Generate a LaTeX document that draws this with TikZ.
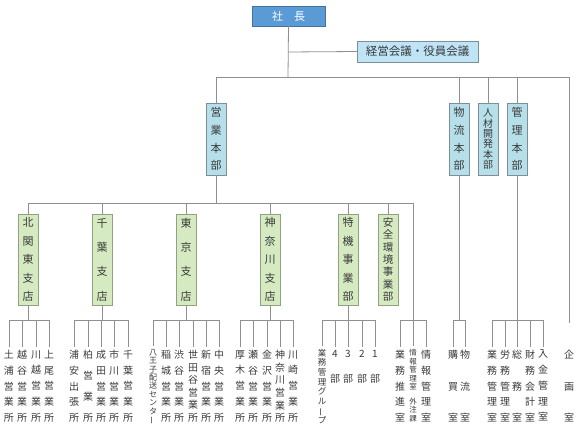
\documentclass[tikz,border=0pt]{standalone}
\usepackage{fontspec}
\newfontfamily\jp{Noto Sans CJK JP}
\definecolor{linec}{HTML}{8F8F8F}
\definecolor{textc}{HTML}{3A3A3A}
\definecolor{topfill}{HTML}{5A9BD5}
\definecolor{topborder}{HTML}{46729E}
\definecolor{meetfill}{HTML}{BEE4F6}
\definecolor{hqfill}{HTML}{B6DFEA}
\definecolor{brfill}{HTML}{D6EAC2}
\definecolor{hqborder}{HTML}{7C8F97}
\definecolor{brborder}{HTML}{8FA383}
\newcommand\vbar{\smash{\rotatebox[origin=c]{90}{ー}}}
\tikzset{
  conn/.style={draw=linec, line width=0.8pt},
  topbox/.style={draw=topborder, fill=topfill, text=white, minimum width=73pt, minimum height=20pt, inner sep=0pt, font=\jp\fontsize{11}{13}\selectfont},
  meetbox/.style={draw=hqborder, fill=meetfill, text=textc, minimum width=121pt, minimum height=21pt, inner sep=0pt, font=\jp\fontsize{11.5}{13}\selectfont},
  hqbox/.style 2 args={draw=hqborder, fill=hqfill, text=textc, minimum width=20pt, minimum height=72pt, inner sep=0pt, align=center, font=\jp\fontsize{#1}{#2}\selectfont},
  brbox/.style 2 args={draw=brborder, fill=brfill, text=textc, minimum width=20pt, minimum height=91pt, inner sep=0pt, align=center, font=\jp\fontsize{#1}{#2}\selectfont},
  col/.style 2 args={anchor=north, inner sep=0pt, align=center, text=textc, font=\jp\fontsize{#1}{#2}\selectfont},
}
\begin{document}
\begin{tikzpicture}[x=1pt,y=-1pt]
\useasboundingbox (0,0) rectangle (580,431);

% top level
\node[topbox] (shacho) at (288.5,16) {社　長};
\node[meetbox] (kaigi) at (417.5,51.5) {経営会議・役員会議};

% head offices
\node[hqbox={11}{17.7}] (eigyo) at (216,139) {営\\業\\本\\部};
\node[hqbox={11}{17.7}] (butsu) at (459,139) {物\\流\\本\\部};
\node[hqbox={10}{10.4}] (jinzai) at (488,139) {人\\材\\開\\発\\本\\部};
\node[hqbox={11}{17.7}] (kanri) at (517,139) {管\\理\\本\\部};

% branches
\node[brbox={11}{18.5}] (kita) at (28,259.5) {北\\関\\東\\支\\店};
\node[brbox={11}{24.3}] (chiba) at (102,259.5) {千\\葉\\支\\店};
\node[brbox={11}{24.3}] (tokyo) at (186,259.5) {東\\京\\支\\店};
\node[brbox={11}{18.5}] (kanagawa) at (270,259.5) {神\\奈\\川\\支\\店};
\node[brbox={11}{18.5}] (tokki) at (348,259.5) {特\\機\\事\\業\\部};
\node[brbox={10.5}{12.3}] (anzen) at (388,259.5) {安\\全\\環\\境\\事\\業\\部};

% junction coordinates
\coordinate (j0) at (288,77);
\coordinate (jk) at (288,52);
\coordinate (busL) at (216,77);
\coordinate (busR) at (569,77);
\coordinate (kikakuEnd) at (569,323);
\coordinate (b2L) at (28,203);
\coordinate (b2R) at (413,203);
\coordinate (fJ) at (413,320);

% bottom columns
\node[col={10}{15.75}] (a1) at (9,350) {土\\浦\\営\\業\\所};
\node[col={10}{15.75}] (a2) at (22,350) {越\\谷\\営\\業\\所};
\node[col={10}{15.75}] (a3) at (36,350) {川\\越\\営\\業\\所};
\node[col={10}{15.75}] (a4) at (49,350) {上\\尾\\営\\業\\所};

\node[col={10}{15.75}] (b1) at (74,350) {浦\\安\\出\\張\\所};
\node[col={10}{21}] (b2) at (88,350) {柏\\営\\業\\所};
\node[col={10}{15.75}] (b3) at (101,350) {成\\田\\営\\業\\所};
\node[col={10}{15.75}] (b4) at (114,350) {市\\川\\営\\業\\所};
\node[col={10}{15.75}] (b5) at (128,350) {千\\葉\\営\\業\\所};

\node[col={8}{8.4}] (c1) at (153,349) {八\\王\\子\\配\\送\\セ\\ン\\タ\\\vbar};
\node[col={10}{15.75}] (c2) at (166,350) {稲\\城\\営\\業\\所};
\node[col={10}{15.75}] (c3) at (179,350) {渋\\谷\\営\\業\\所};
\node[col={10}{12.6}] (c4) at (193,350) {世\\田\\谷\\営\\業\\所};
\node[col={10}{15.75}] (c5) at (206,350) {新\\宿\\営\\業\\所};
\node[col={10}{15.75}] (c6) at (219,350) {中\\央\\営\\業\\所};

\node[col={10}{15.75}] (d1) at (240,350) {厚\\木\\営\\業\\所};
\node[col={10}{15.75}] (d2) at (253,350) {瀬\\谷\\営\\業\\所};
\node[col={10}{15.75}] (d3) at (267,350) {金\\沢\\営\\業\\所};
\node[col={10}{12.6}] (d4) at (280,350) {神\\奈\\川\\営\\業\\所};
\node[col={10}{15.75}] (d5) at (293,350) {川\\崎\\営\\業\\所};

\node[col={8.5}{9.6}] (e1) at (322,349) {業\\務\\管\\理\\グ\\ル\\\vbar\\プ};
\node[col={10}{25}] (e2) at (335,350) {4\\部};
\node[col={10}{25}] (e3) at (348,350) {3\\部};
\node[col={10}{25}] (e4) at (362,350) {2\\部};
\node[col={10}{25}] (e5) at (375,350) {1\\部};

\node[col={10}{15.75}] (f1) at (400,350) {業\\務\\推\\進\\室};
\node[col={7.5}{8.5}] (f2) at (413,349) {情\\報\\管\\理\\室\\[6pt]外\\注\\課};
\node[col={10}{15.75}] (f3) at (426,350) {情\\報\\管\\理\\室};

\node[col={10}{31.5}] (g1) at (453,350) {購\\買\\室};
\node[col={10}{31.5}] (g2) at (465,350) {物\\流\\室};

\node[col={10}{15.75}] (h1) at (492,350) {業\\務\\管\\理\\室};
\node[col={10}{15.75}] (h2) at (505,350) {労\\務\\管\\理\\室};
\node[col={10}{31.5}] (h3) at (517,350) {総\\務\\室};
\node[col={10}{15.75}] (h4) at (530,350) {財\\務\\会\\計\\室};
\node[col={10}{15.75}] (h5) at (543,350) {入\\金\\管\\理\\室};

\node[col={10}{31.5}] (k1) at (569,350) {企\\画\\室};

% connectors: top
\draw[conn] (shacho.south) -- (j0);
\draw[conn] (jk) -- (kaigi.west);
\draw[conn] (busL) -- (busR);
\draw[conn] (busL) -- (eigyo.north);
\draw[conn] (butsu.north |- busL) -- (butsu.north);
\draw[conn] (jinzai.north |- busL) -- (jinzai.north);
\draw[conn] (kanri.north |- busL) -- (kanri.north);
\draw[conn] (busR) -- (kikakuEnd);

% connectors: sales
\draw[conn] (eigyo.south) -- (eigyo.south |- b2L);
\draw[conn] (b2L) -- (b2R);
\foreach \b in {kita,chiba,tokyo,kanagawa,tokki,anzen}
  \draw[conn] (\b.north |- b2L) -- (\b.north);
\draw[conn] (b2R) -- (fJ);

% bottom brackets
\foreach \bx/\first/\last/\list in {
  kita/a1/a4/{a1,a2,a3,a4},
  chiba/b1/b5/{b1,b2,b3,b4,b5},
  tokyo/c1/c6/{c1,c2,c3,c4,c5,c6},
  kanagawa/d1/d5/{d1,d2,d3,d4,d5},
  tokki/e1/e5/{e1,e2,e3,e4,e5},
  butsu/g1/g2/{g1,g2},
  kanri/h1/h5/{h1,h2,h3,h4,h5}}{
  \draw[conn] (\bx.south) -- (\bx.south |- fJ);
  \draw[conn] (\first.north |- fJ) -- (\last.north |- fJ);
  \foreach \c in \list
    \draw[conn, shorten >=3pt] (\c.north |- fJ) -- (\c.north);
}
\draw[conn] (f1.north |- fJ) -- (f3.north |- fJ);
\foreach \c in {f1,f2,f3}
  \draw[conn, shorten >=3pt] (\c.north |- fJ) -- (\c.north);
\end{tikzpicture}
\end{document}
